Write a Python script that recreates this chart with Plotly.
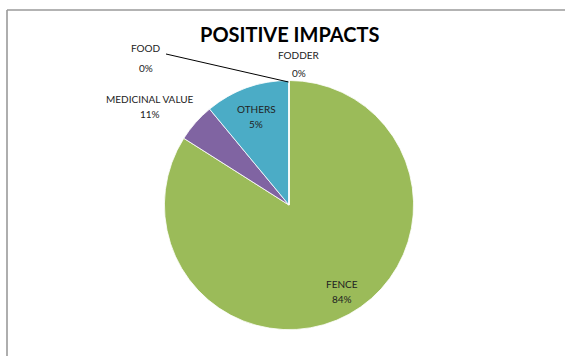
import plotly.graph_objects as go

# Share of respondents per positive impact (percent)
categories = ["FENCE", "OTHERS", "MEDICINAL VALUE", "FOOD", "FODDER"]
values = [84, 5, 11, 0, 0]
colors = ["#9BBB59", "#8064A2", "#4BACC6", "#C0504D", "#F79646"]

W, H = 565, 356
FONT = "Lato"
TEXT = "#222222"

fig = go.Figure(
    go.Pie(
        labels=categories,
        values=values,
        sort=False,
        direction="clockwise",
        rotation=0,
        marker=dict(colors=colors, line=dict(color="white", width=0.8)),
        textinfo="none",
        hoverinfo="label+percent",
        domain=dict(x=[0.291, 0.732], y=[0.074, 0.774]),
        showlegend=False,
    )
)


def px(x):
    return x / W


def py(y):
    return 1 - y / H


def pct(name):
    total = sum(values)
    return f"{round(100 * values[categories.index(name)] / total)}%"


def note(x, y, text, size, color=TEXT):
    return dict(x=px(x), y=py(y), xref="paper", yref="paper",
                xanchor="center", yanchor="middle",
                text=text, showarrow=False,
                font=dict(family=FONT, size=size, color=color))


# Data labels: category name over its percentage
label_pos = {
    "FOOD": (146, 48, 68),
    "FODDER": (299, 55, 73),
    "MEDICINAL VALUE": (150, 99, 114),
    "OTHERS": (256, 109, 124),
    "FENCE": (342, 284, 299),
}
annotations = []
for name, (x, y1, y2) in label_pos.items():
    annotations.append(note(x, y1, name, 10))
    annotations.append(note(x, y2, pct(name), 10))

# Chart title
annotations.append(note(289, 34, "<b>POSITIVE IMPACTS</b>", 20, "#000000"))

shapes = [
    # chart area border (top and left edges)
    dict(type="line", xref="paper", yref="paper", x0=px(7), x1=1.0,
         y0=py(10), y1=py(10), line=dict(color="#9a9a9a", width=1.6)),
    dict(type="line", xref="paper", yref="paper", x0=px(7), x1=px(7),
         y0=py(10), y1=0.0, line=dict(color="#9a9a9a", width=1.6)),
    # leader line for the FOOD label
    dict(type="line", xref="paper", yref="paper", x0=px(166), x1=px(288.5),
         y0=py(54), y1=py(82), line=dict(color="#000000", width=1)),
]

fig.update_layout(
    width=W,
    height=H,
    margin=dict(l=0, r=0, t=0, b=0),
    paper_bgcolor="white",
    plot_bgcolor="white",
    annotations=annotations,
    shapes=shapes,
)

fig.write_html("out.html")
